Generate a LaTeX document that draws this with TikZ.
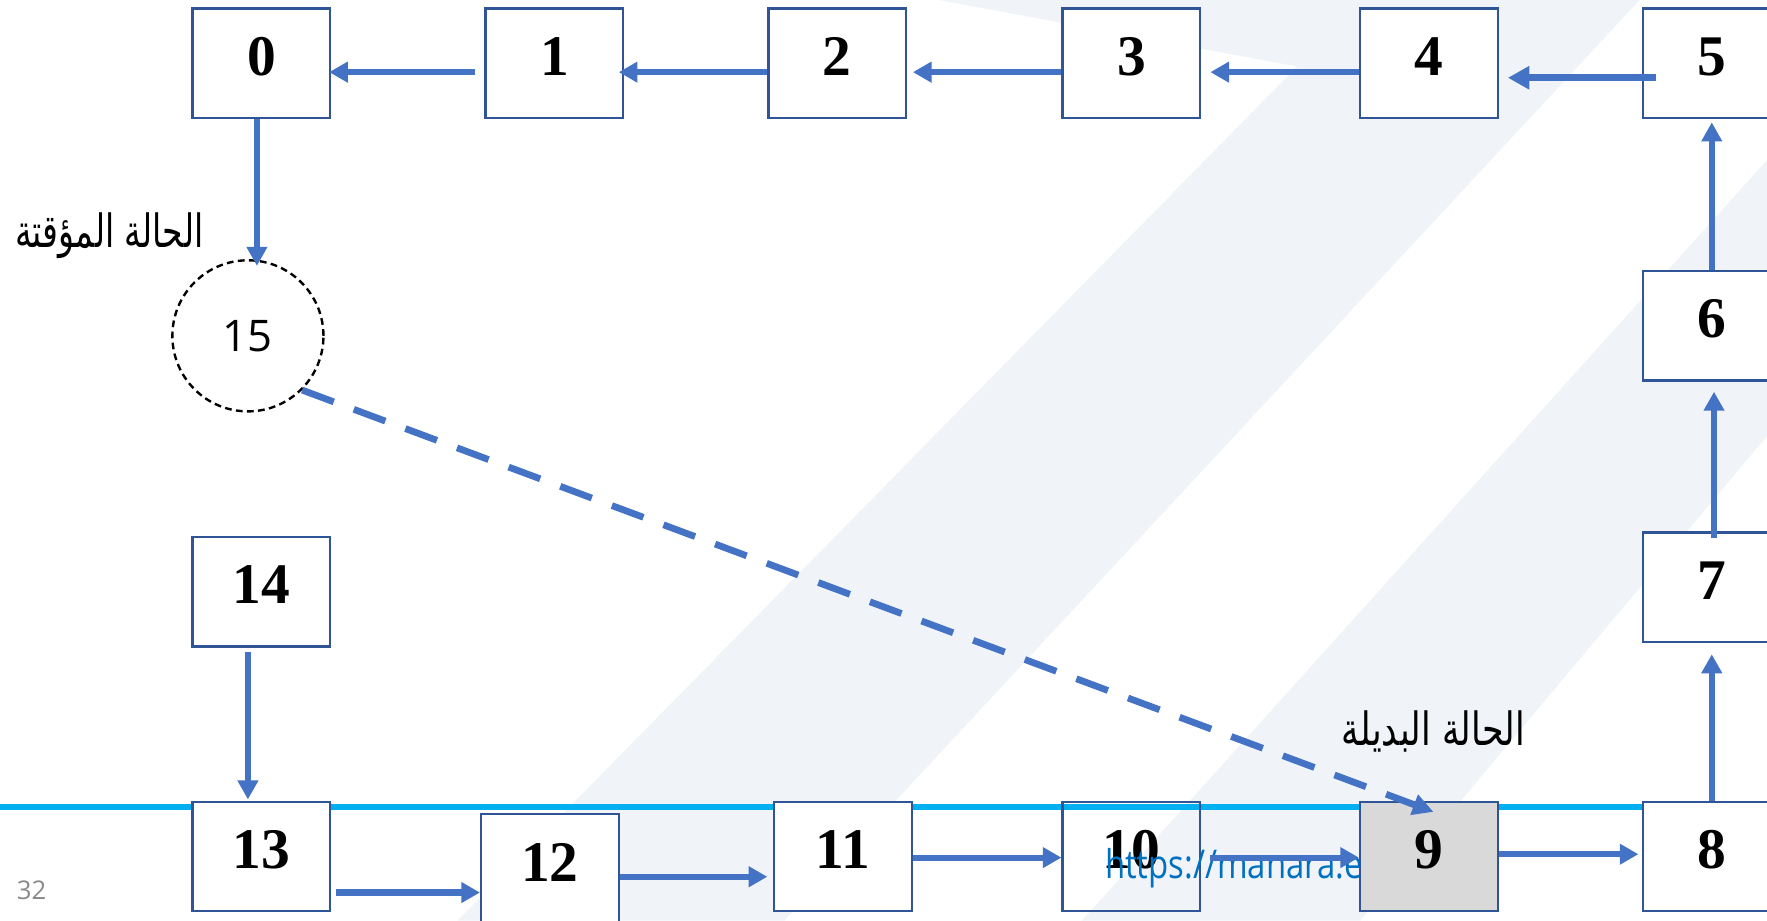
\documentclass[tikz,border=0pt]{standalone}
\usepackage{fontspec}
\usepackage{graphicx}
\setmainfont{Liberation Serif}
\newfontfamily\arabicfont[Script=Arabic]{DejaVu Sans}
\newfontfamily\uisans{Open Sans}
\TeXXeTstate=1
\usetikzlibrary{arrows.meta,calc}

\definecolor{boxline}{RGB}{47,85,151}
\definecolor{arrowblue}{RGB}{68,114,196}
\definecolor{rulecyan}{RGB}{0,176,240}
\definecolor{stripe}{RGB}{240,244,249}
\definecolor{linkblue}{RGB}{0,112,192}
\definecolor{greyfill}{RGB}{217,217,217}
\definecolor{pagenum}{RGB}{137,137,137}

\begin{document}
\begin{tikzpicture}[x=0.01cm,y=-0.01cm,
  statebox/.style={draw=boxline, line width=0.6pt, fill=white,
    minimum width=1.22cm, minimum height=0.97cm, inner sep=0pt,
    font=\fontsize{14.5pt}{14.5pt}\selectfont\bfseries, text depth=1.2mm},
  openbox/.style={statebox, fill=none},
  tempstate/.style={circle, draw=black, line width=0.6pt,
    dash pattern=on 1.7pt off 1.1pt, minimum size=1.34cm, inner sep=0pt,
    font=\uisans\fontsize{11pt}{11pt}\selectfont},
  flowh/.style={draw=arrowblue, line width=1.55pt,
    -{Triangle[length=4.7pt,width=5pt]}},
  flowbig/.style={draw=arrowblue, line width=1.8pt,
    -{Triangle[length=5.4pt,width=5.6pt]}},
  flowv/.style={draw=arrowblue, line width=1.45pt,
    -{Triangle[length=4.8pt,width=5pt]}},
  jump/.style={draw=arrowblue, line width=1.7pt,
    dash pattern=on 8.5pt off 5.4pt,
    -{Triangle[length=5.2pt,width=5.2pt]}},
  arlabel/.style={font=\arabicfont\fontsize{11pt}{11pt}\selectfont, inner sep=0pt},
]
\useasboundingbox (0,0) rectangle (1568,817);
\clip (0,0) rectangle (1568,817);

% pale diagonal bands of the slide background
\fill[stripe] (833,0) -- (1455,0) -- (696,817) -- (406,817) -- (1151,59) -- cycle;
\fill[stripe] (960,817) -- (1207,817) -- (1568,387) -- (1568,142) -- cycle;

% cyan rule across the slide
\draw[rulecyan, line width=1.45pt] (0,716) -- (1568,716);

% top row
\node[statebox] (b0) at (232,56) {0};
\node[statebox] (b1) at (492,56) {1};
\node[statebox] (b2) at (743,56) {2};
\node[statebox] (b3) at (1004,56) {3};
\node[statebox] (b4) at (1268,56) {4};
\node[statebox] (b5) at (1519,56) {5};
% right column
\node[statebox] (b6) at (1519,289) {6};
\node[statebox] (b7) at (1519,521) {7};
\node[statebox] (b8) at (1519,760) {8};
% bottom row
\node[openbox] (b10) at (1004,760) {10};
\node[statebox] (b11) at (748,760) {11};
\node[statebox] (b12) at (488,771) {12};
\node[statebox] (b13) at (232,760) {13};
\node[statebox] (b14) at (232,525) {14};

% footer link, partly hidden by state 9
\node[anchor=west, inner sep=0pt, text=linkblue, font=\uisans\fontsize{10pt}{10pt}\selectfont]
  (link) at (980,770) {\scalebox{0.83}[1]{https://manara.e}};

\node[statebox, fill=greyfill] (b9) at (1268,760) {9};

% temporary state
\node[tempstate] (c15) at (220,298) {15};

% page number
\node[text=pagenum, inner sep=0pt, font=\uisans\fontsize{6.5pt}{6.5pt}\selectfont]
  (pg) at (28,790) {32};

% transitions along the top row
\draw[flowh] ($(b1.west)+(-8,8)$) -- ($(b0.east)+(-2,8)$);
\draw[flowh] ($(b2.west)+(0,8)$) -- ($(b1.east)+(-5,8)$);
\draw[flowh] ($(b3.west)+(0,8)$) -- ($(b2.east)+(5,8)$);
\draw[flowh] ($(b4.west)+(0,8)$) -- ($(b3.east)+(8,8)$);
\draw[flowbig] ($(b5.west)+(13,13)$) -- ($(b4.east)+(8,13)$);
% transitions up the right column
\draw[flowv] (b6.north) -- ($(b5.south)+(0,3)$);
\draw[flowv] ($(b7.north)+(2,6)$) -- ($(b6.south)+(2,9)$);
\draw[flowv] (b8.north) -- ($(b7.south)+(0,10)$);
% transitions along the bottom row
\draw[flowh] ($(b9.east)+(0,-2)$) -- ($(b8.west)+(-3,-2)$);
\draw[flowh] ($(b10.east)+(8,1)$) -- ($(b9.west)+(0,1)$);
\draw[flowh] ($(b11.east)+(0,1)$) -- ($(b10.west)+(0,1)$);
\draw[flowh] ($(b12.east)+(0,7)$) -- ($(b11.west)+(-5,18)$);
\draw[flowh] ($(b13.east)+(4,32)$) -- ($(b12.west)+(0,21)$);
% left side
\draw[flowv] ($(b14.south)+(-12,4)$) -- ($(b13.north)+(-12,-1)$);
\draw[flowv] ($(b0.south)+(-4,0)$) -- ($(c15.north)+(8,6)$);
% jump from the temporary state to the alternative state
\draw[jump] (c15.south east) -- ($(b9.north)+(4,10)$);

% state captions
\node[arlabel] (lbltemp) at (97,209) {\scalebox{0.76}[1.05]{\beginR الحالة المؤقتة\endR}};
\node[arlabel] (lblalt) at (1272,649) {\scalebox{0.8}[1.05]{\beginR الحالة البديلة\endR}};
\end{tikzpicture}
\end{document}
